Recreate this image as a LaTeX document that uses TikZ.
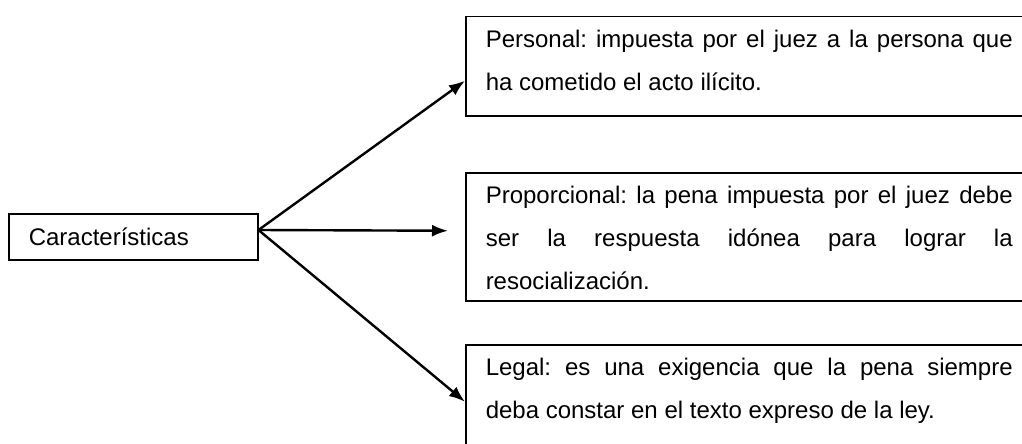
\documentclass[tikz,border=0pt]{standalone}
\usepackage{fontspec}
\setmainfont{Liberation Sans}
\usetikzlibrary{arrows.meta}
\tolerance=10000
\hyphenpenalty=10000
\frenchspacing

\begin{document}
\begin{tikzpicture}
[x=1pt,y=-1pt,->,>={Latex[length=16pt,width=12pt]},line width=2.4pt,auto]
  \tikzstyle{every node}=[font=\fontsize{24}{43}\selectfont,text=black]
  \tikzstyle{textbox}=[draw,line width=1.5pt,anchor=north west,text width=527pt,inner xsep=20pt,inner ysep=0pt,align=justify]
  \useasboundingbox (0,0) rectangle (1022,444);
  \clip (0,0) rectangle (1022,444);

  \node[draw,line width=1.5pt,anchor=west,text width=209pt,inner xsep=20pt,minimum height=46pt,text height=17pt,text depth=0pt] (car) at (8,237) {Características};
  \node[textbox] (pers) at (465,16) {\rule{0pt}{31pt}Personal: impuesta por el juez a la persona que\linebreak ha cometido el acto ilícito.\rule[-25pt]{0pt}{25pt}};
  \node[textbox] (prop) at (465,172) {\rule{0pt}{31pt}Proporcional: la pena impuesta por el juez debe\linebreak ser la respuesta idónea para lograr la\linebreak resocialización.\rule[-11pt]{0pt}{11pt}};
  \node[textbox] (legal) at (465,344) {\rule{0pt}{31pt}Legal: es una exigencia que la pena siempre\linebreak deba constar en el texto expreso de la ley.\rule[-40pt]{0pt}{40pt}};
  \coordinate (orig) at ([yshift=7pt]car.east);

  \path (orig) edge node {} ([yshift=-14.5pt]pers.west)
               edge node {} ([xshift=-17pt,yshift=6pt]prop.west)
               edge node {} (legal.west);
\end{tikzpicture}
\end{document}
